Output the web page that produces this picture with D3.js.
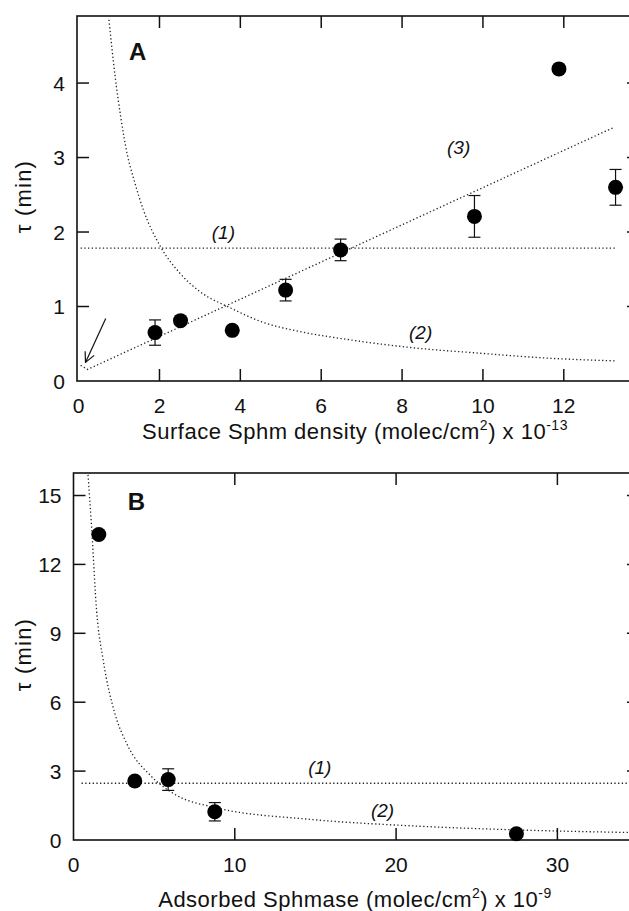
<!DOCTYPE html>
<html>
<head>
<meta charset="utf-8">
<script src="https://cdn.jsdelivr.net/npm/d3@7"></script>
<style>
  body { margin: 0; background: #fff; }
  svg { display: block; font-family: "Liberation Sans", Arial, sans-serif; }
  .tick-label { font-size: 21px; fill: #111; }
  .axis-title { font-size: 22px; fill: #111; letter-spacing: 0.5px; }
  .note { font-size: 19px; font-style: italic; fill: #111; }
  .panel-tag { font-size: 24px; font-weight: bold; fill: #111; }
</style>
</head>
<body>
<div id="chart"></div>
<script>
// Panel A: tau vs surface Sphm density (x 10^-13)
const aDensity = [1.89, 2.52, 3.80, 5.12, 6.48, 9.79, 11.88, 13.28];
const aTau     = [0.65, 0.81, 0.68, 1.22, 1.76, 2.21, 4.19, 2.60];
const aErr     = [0.17, 0, 0, 0.145, 0.145, 0.28, 0, 0.24];
const aXTicks  = [0, 2, 4, 6, 8, 10, 12];
const aYTicks  = [0, 1, 2, 3, 4];
// fitted curves
const aFit1 = [[0.05, 1.785], [13.26, 1.785]];
const aFit2 = [[0.75, 4.85], [0.9, 4.1], [1.04, 3.55], [1.2, 3.05], [1.37, 2.7], [1.6, 2.3],
               [2.03, 1.8], [2.5, 1.45], [3.0, 1.2], [3.76, 0.98], [4.5, 0.8], [5.5, 0.66],
               [6.5, 0.57], [8.2, 0.45], [10, 0.37], [11.5, 0.31], [13.28, 0.27]];
const aFit3 = [[0.05, 0.21], [0.22, 0.155], [13.22, 3.40]];

// Panel B: tau vs adsorbed Sphmase (x 10^-9)
const bSphmase = [1.57, 3.80, 5.87, 8.76, 27.46];
const bTau     = [13.3, 2.57, 2.63, 1.23, 0.27];
const bErr     = [0, 0, 0.47, 0.40, 0];
const bXTicks  = [0, 10, 20, 30];
const bYTicks  = [0, 3, 6, 9, 12, 15];
const bFit1 = [[0.5, 2.47], [35, 2.47]];
const bFit2 = [[0.9, 15.9], [1.12, 13.65], [1.43, 10.0], [1.84, 7.84], [2.56, 5.52], [3.29, 4.21],
               [4.84, 2.76], [6.18, 2.03], [8.87, 1.40], [14.65, 0.9], [20.85, 0.62],
               [27.46, 0.44], [35, 0.32]];

const W = 629, H = 911;

const svg = d3.select('#chart')
    .append('svg')
    .attr('width', W)
    .attr('height', H);

svg.append('rect').attr('width', W).attr('height', H).attr('fill', '#fff');

svg.append('defs').append('marker')
    .attr('id', 'arrow')
    .attr('viewBox', '0 0 12 12')
    .attr('refX', 11).attr('refY', 6)
    .attr('markerWidth', 12).attr('markerHeight', 12)
    .attr('markerUnits', 'userSpaceOnUse')
    .attr('orient', 'auto')
    .append('path')
    .attr('d', 'M1,1 L11,6 L1,11')
    .attr('fill', 'none')
    .attr('stroke', '#111')
    .attr('stroke-width', 1.2);

function drawPanel(p) {
    const x = d3.scaleLinear().domain(p.xDomain).range([p.left, p.right]);
    const y = d3.scaleLinear().domain(p.yDomain).range([p.bottom, p.top]);
    const g = svg.append('g');
    const tick = 12;

    // fitted lines (dotted)
    const line = d3.line().x(d => x(d[0])).y(d => y(d[1]));
    p.fits.forEach(f => {
        g.append('path')
            .attr('d', line.curve(f.curve || d3.curveLinear)(f.pts))
            .attr('fill', 'none')
            .attr('stroke', '#222')
            .attr('stroke-width', 1.3)
            .attr('stroke-dasharray', '1.3,2.4');
    });

    // frame
    g.append('rect')
        .attr('x', p.left).attr('y', p.top)
        .attr('width', p.right - p.left).attr('height', p.bottom - p.top)
        .attr('fill', 'none').attr('stroke', '#111').attr('stroke-width', 1.6);

    // inward ticks on all sides
    p.xTicks.filter(v => v > p.xDomain[0] + 0.1).forEach(v => {
        g.append('line').attr('x1', x(v)).attr('x2', x(v))
            .attr('y1', p.bottom).attr('y2', p.bottom - tick)
            .attr('stroke', '#111').attr('stroke-width', 1.5);
        g.append('line').attr('x1', x(v)).attr('x2', x(v))
            .attr('y1', p.top).attr('y2', p.top + tick)
            .attr('stroke', '#111').attr('stroke-width', 1.5);
    });
    p.yTicks.filter(v => v > 0).forEach(v => {
        g.append('line').attr('x1', p.left).attr('x2', p.left + tick)
            .attr('y1', y(v)).attr('y2', y(v))
            .attr('stroke', '#111').attr('stroke-width', 1.5);
        g.append('line').attr('x1', p.right).attr('x2', p.right - tick)
            .attr('y1', y(v)).attr('y2', y(v))
            .attr('stroke', '#111').attr('stroke-width', 1.5);
    });

    // tick labels
    g.selectAll('.xl').data(p.xTicks).enter().append('text')
        .attr('class', 'tick-label')
        .attr('x', d => x(d)).attr('y', p.bottom + 32)
        .attr('text-anchor', 'middle')
        .text(d => d);
    g.selectAll('.yl').data(p.yTicks).enter().append('text')
        .attr('class', 'tick-label')
        .attr('x', p.left - 12).attr('y', d => y(d) + 7.5)
        .attr('text-anchor', 'end')
        .text(d => d);

    // axis titles
    const xt = g.append('text')
        .attr('class', 'axis-title')
        .attr('x', p.titleX).attr('y', p.bottom + p.titleDy)
        .attr('text-anchor', 'middle');
    xt.append('tspan').text(p.xTitle[0]);
    xt.append('tspan').attr('dy', -9).attr('font-size', 14).text('2');
    xt.append('tspan').attr('dy', 9).text(p.xTitle[1]);
    xt.append('tspan').attr('dy', -9).attr('font-size', 14).text(p.xTitle[2]);

    g.append('text')
        .attr('class', 'axis-title')
        .attr('transform', 'translate(31,' + ((p.top + p.bottom) / 2 - 2) + ') rotate(-90)')
        .attr('text-anchor', 'middle')
        .style('font-size', '22px')
        .style('letter-spacing', '1.2px')
        .text('\u03c4 (min)');

    // error bars
    p.xs.forEach((xv, i) => {
        if (!p.err[i]) return;
        const y1 = y(p.ys[i] - p.err[i]), y2 = y(p.ys[i] + p.err[i]), cx = x(xv);
        g.append('line').attr('x1', cx).attr('x2', cx).attr('y1', y1).attr('y2', y2)
            .attr('stroke', '#111').attr('stroke-width', 1.2);
        [y1, y2].forEach(yy => g.append('line')
            .attr('x1', cx - 6).attr('x2', cx + 6).attr('y1', yy).attr('y2', yy)
            .attr('stroke', '#111').attr('stroke-width', 1.2));
    });

    // points
    g.selectAll('.pt').data(p.xs).enter().append('circle')
        .attr('cx', d => x(d))
        .attr('cy', (d, i) => y(p.ys[i]))
        .attr('r', 7.5)
        .attr('fill', '#000');

    // curve labels
    p.notes.forEach(n => {
        g.append('text').attr('class', 'note')
            .attr('x', x(n.at[0])).attr('y', y(n.at[1]) + 7)
            .attr('text-anchor', 'middle')
            .text(n.text);
    });

    g.append('text').attr('class', 'panel-tag')
        .attr('x', x(p.tag.at[0])).attr('y', y(p.tag.at[1]) + 8.5)
        .attr('text-anchor', 'middle')
        .text(p.tag.text);

    return { x, y, g };
}

const A = drawPanel({
    left: 77, right: 639, top: 16, bottom: 381,
    xDomain: [-0.04, 13.86], yDomain: [0, 4.9],
    xTicks: aXTicks, yTicks: aYTicks,
    xs: aDensity, ys: aTau, err: aErr,
    fits: [{ pts: aFit1 }, { pts: aFit2, curve: d3.curveMonotoneX }, { pts: aFit3 }],
    notes: [{ text: '(1)', at: [3.58, 2.0] }, { text: '(2)', at: [8.46, 0.66] }, { text: '(3)', at: [9.40, 3.14] }],
    tag: { text: 'A', at: [1.46, 4.42] },
    xTitle: ['Surface Sphm density (molec/cm', ') x 10', '-13'],
    titleX: 355, titleDy: 58
});

// arrow pointing at the start of curve (3)
A.g.append('line')
    .attr('x1', A.x(0.67)).attr('y1', A.y(0.84))
    .attr('x2', A.x(0.17)).attr('y2', A.y(0.25))
    .attr('stroke', '#111').attr('stroke-width', 1.2)
    .attr('marker-end', 'url(#arrow)');

drawPanel({
    left: 73.5, right: 639, top: 473, bottom: 840,
    xDomain: [0, 35.06], yDomain: [0, 15.98],
    xTicks: bXTicks, yTicks: bYTicks,
    xs: bSphmase, ys: bTau, err: bErr,
    fits: [{ pts: bFit1 }, { pts: bFit2, curve: d3.curveMonotoneX }],
    notes: [{ text: '(1)', at: [15.27, 3.19] }, { text: '(2)', at: [19.16, 1.31] }],
    tag: { text: 'B', at: [3.9, 14.74] },
    xTitle: ['Adsorbed Sphmase (molec/cm', ') x 10', '-9'],
    titleX: 355, titleDy: 67
});
</script>
</body>
</html>
